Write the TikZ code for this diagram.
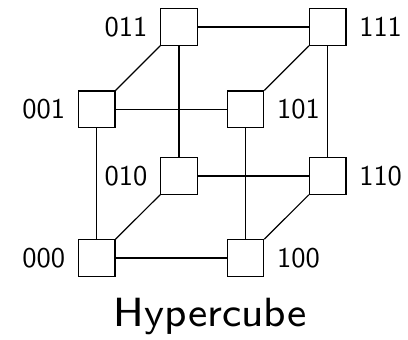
\documentclass[tikz,border=0pt]{standalone}
\usepackage{graphicx}
\begin{document}
\begin{tikzpicture}[x=1pt,y=-1pt,
  vtx/.style={draw,line width=1.2pt,minimum size=36.5pt,inner sep=0pt,fill=white},
  lab/.style={font=\sffamily,inner sep=0pt,label distance=12.5pt},
  edge/.style={line width=1.2pt}]
\useasboundingbox (0,0) rectangle (408,340);
\newcommand\dg[1]{\scalebox{2.85}{#1}}
\node[vtx,label={[lab]left:\dg{000}}] (000) at (96.7,258) {};
\node[vtx,label={[lab]right:\dg{100}}] (100) at (245.5,258) {};
\node[vtx,label={[lab]left:\dg{001}}] (001) at (96.7,109.2) {};
\node[vtx,label={[lab]right:\dg{101}}] (101) at (245.5,109.2) {};
\node[vtx,label={[lab]left:\dg{010}}] (010) at (179,176) {};
\node[vtx,label={[lab]right:\dg{110}}] (110) at (327.7,176) {};
\node[vtx,label={[lab]left:\dg{011}}] (011) at (179,27) {};
\node[vtx,label={[lab]right:\dg{111}}] (111) at (327.7,27) {};
\draw[edge] (000) -- (100);
\draw[edge] (000) -- (001);
\draw[edge] (001) -- (101);
\draw[edge] (100) -- (101);
\draw[edge] (010) -- (110);
\draw[edge] (010) -- (011);
\draw[edge] (011) -- (111);
\draw[edge] (110) -- (111);
\draw[edge] (000) -- (010);
\draw[edge] (100) -- (110);
\draw[edge] (001) -- (011);
\draw[edge] (101) -- (111);
\node[inner sep=0pt,anchor=base] (title) at (210.3,326.7) {\scalebox{5.1}{\fontsize{8}{9}\sffamily\selectfont Hypercube}};
\end{tikzpicture}
\end{document}
